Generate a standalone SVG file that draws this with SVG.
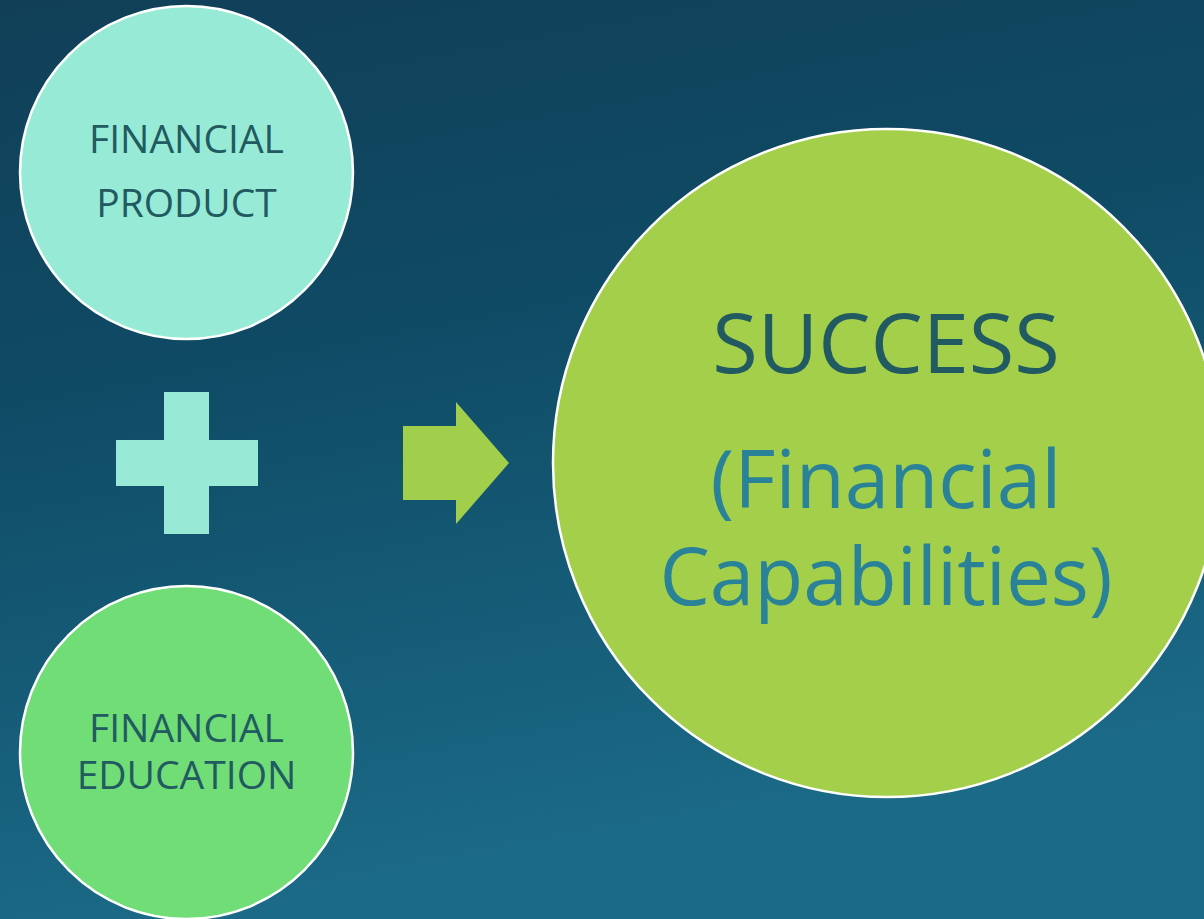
<svg xmlns="http://www.w3.org/2000/svg" width="1204" height="919" viewBox="0 0 1204 919">
  <defs>
    <linearGradient id="bg" x1="0" y1="0" x2="0.25" y2="1">
      <stop offset="0" stop-color="#113f58"/>
      <stop offset="0.4" stop-color="#0f4a64"/>
      <stop offset="1" stop-color="#1b6b88"/>
    </linearGradient>
    <style>
      .node { stroke: #ffffff; stroke-width: 2.5; }
      .lbl { font-family: "Open Sans", "Liberation Sans", sans-serif; text-anchor: middle; fill: #215a60; }
      .small { font-size: 39px; }
    </style>
  </defs>
  <rect x="0" y="0" width="1204" height="919" fill="url(#bg)"/>

  <g id="node-product">
    <circle class="node" cx="186.5" cy="172.5" r="166.5" fill="#97ebd6"/>
    <text class="lbl small" x="186.5" y="153">FINANCIAL</text>
    <text class="lbl small" x="186.5" y="217">PRODUCT</text>
  </g>

  <g id="node-education">
    <circle class="node" cx="186.5" cy="752.5" r="166.5" fill="#70dd77"/>
    <text class="lbl small" x="186.5" y="742">FINANCIAL</text>
    <text class="lbl small" x="186.5" y="789">EDUCATION</text>
  </g>

  <g id="node-success">
    <circle class="node" cx="887" cy="463" r="334" fill="#a3cf4b"/>
    <text class="lbl" x="886" y="373" font-size="83">SUCCESS</text>
    <text class="lbl" x="886" y="508" font-size="80" fill="#2a8299" style="fill:#2a8299">(Financial</text>
    <text class="lbl" x="886" y="605" font-size="80" fill="#2a8299" style="fill:#2a8299">Capabilities)</text>
  </g>

  <g id="connectors">
    <path id="plus" d="M164 392 H209 V440 H258 V486 H209 V534 H164 V486 H116 V440 H164 Z" fill="#98e9d5"/>
    <path id="arrow" d="M403 426 H456 V402 L509 463 L456 524 V500 H403 Z" fill="#a2cf4b"/>
  </g>
</svg>
